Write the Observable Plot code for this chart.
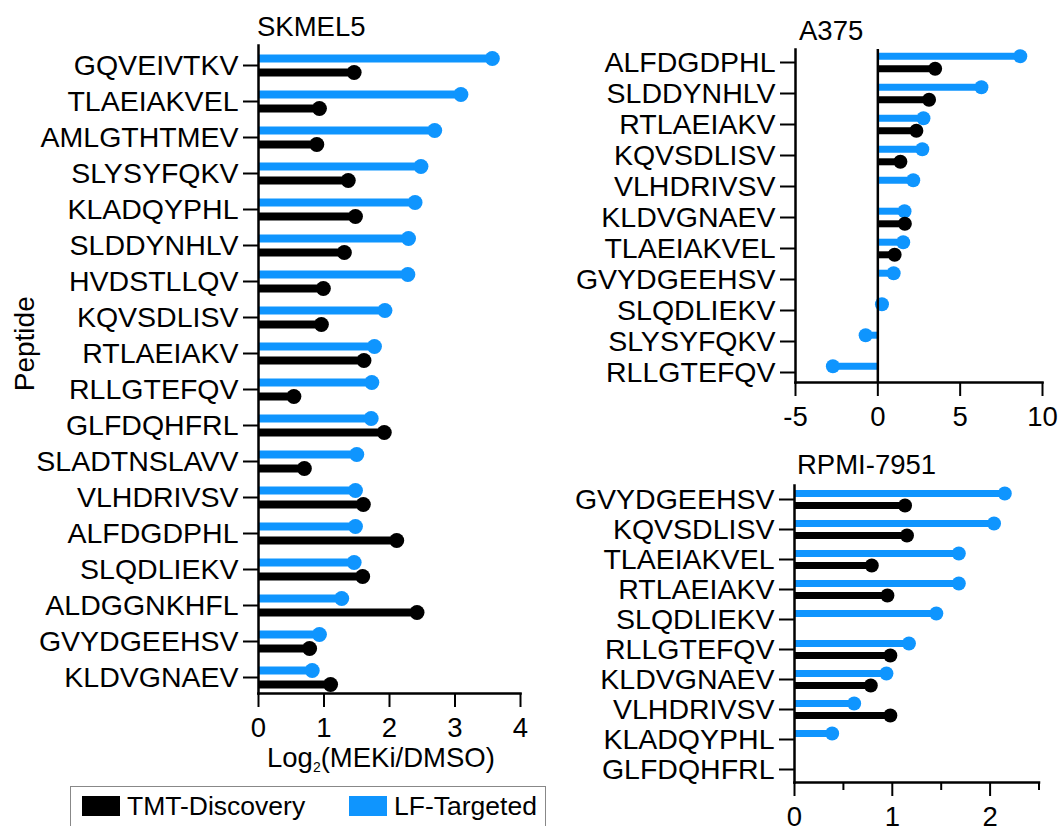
<!DOCTYPE html>
<html>
<head>
<meta charset="utf-8">
<script src="https://cdn.jsdelivr.net/npm/d3@7"></script>
<script src="https://cdn.jsdelivr.net/npm/@observablehq/plot@0.6"></script>
<style>
  html, body { margin: 0; padding: 0; background: #fff; }
  #root { position: relative; width: 1058px; height: 826px; overflow: hidden; background: #fff;
          font-family: "Liberation Sans", Arial, Helvetica, sans-serif; color: #000; }
  .abs { position: absolute; white-space: nowrap; }
  .title { font-size: 27.5px; line-height: 27.5px; }
  .legend { position: absolute; border: 1.5px solid #888; box-sizing: border-box; }
  .sw { position: absolute; width: 38px; height: 20px; }
  .lt { position: absolute; font-size: 26.5px; line-height: 26.5px; }
</style>
</head>
<body>
<div id="root"></div>
<script>
// ---------- data ----------
const seriesNames = ["TMT-Discovery", "LF-Targeted"];

const skmel5Peptides = ["GQVEIVTKV","TLAEIAKVEL","AMLGTHTMEV","SLYSYFQKV","KLADQYPHL","SLDDYNHLV","HVDSTLLQV","KQVSDLISV","RTLAEIAKV","RLLGTEFQV","GLFDQHFRL","SLADTNSLAVV","VLHDRIVSV","ALFDGDPHL","SLQDLIEKV","ALDGGNKHFL","GVYDGEEHSV","KLDVGNAEV"];
const skmel5LF  = [3.57,3.09,2.69,2.48,2.39,2.29,2.28,1.93,1.77,1.73,1.72,1.50,1.48,1.48,1.46,1.27,0.93,0.82];
const skmel5TMT = [1.46,0.93,0.89,1.37,1.48,1.31,0.99,0.96,1.61,0.54,1.92,0.70,1.60,2.11,1.59,2.42,0.78,1.10];

const a375Peptides = ["ALFDGDPHL","SLDDYNHLV","RTLAEIAKV","KQVSDLISV","VLHDRIVSV","KLDVGNAEV","TLAEIAKVEL","GVYDGEEHSV","SLQDLIEKV","SLYSYFQKV","RLLGTEFQV"];
const a375LF  = [8.65,6.29,2.77,2.70,2.15,1.62,1.54,0.96,0.25,-0.74,-2.73];
const a375TMT = [3.48,3.11,2.34,1.37,null,1.64,1.02,null,null,null,null];

const rpmiPeptides = ["GVYDGEEHSV","KQVSDLISV","TLAEIAKVEL","RTLAEIAKV","SLQDLIEKV","RLLGTEFQV","KLDVGNAEV","VLHDRIVSV","KLADQYPHL","GLFDQHFRL"];
const rpmiLF  = [2.15,2.04,1.68,1.68,1.45,1.17,0.94,0.61,0.385,null];
const rpmiTMT = [1.13,1.15,0.79,0.95,null,0.98,0.78,0.98,null,null];

const skmel5Ticks = [0,1,2,3,4];
const a375Ticks = [-5,0,5,10];
const rpmiTicks = [0,1,2];
const rpmiMinorTicks = [0.5,1.5,2.5];

// ---------- styles ----------
const BLUE = "#0f95fe";
const BLACK = "#000000";
const FONT = '"Liberation Sans", Arial, Helvetica, sans-serif';

function rows(peptides, values) {
  return peptides.map((p, i) => ({peptide: p, value: values[i]})).filter(d => d.value != null);
}

function panel(o) {
  const lf = rows(o.peptides, o.lf);
  const tmt = rows(o.peptides, o.tmt);
  const marks = [
    Plot.ruleY(lf, {y: "peptide", x1: 0, x2: "value", dy: -o.off, stroke: BLUE, strokeWidth: o.sw}),
    Plot.dot(lf, {x: "value", y: "peptide", dy: -o.off, r: o.r, fill: BLUE}),
    Plot.ruleY(tmt, {y: "peptide", x1: 0, x2: "value", dy: o.off, stroke: BLACK, strokeWidth: o.sw}),
    Plot.dot(tmt, {x: "value", y: "peptide", dy: o.off, r: o.r, fill: BLACK}),
    Plot.axisY({tickSize: 15, tickPadding: 5, fontSize: 28.5, strokeWidth: 2, label: null, stroke: "#000", fill: "#000"}),
    Plot.axisX({ticks: o.ticks, tickSize: 14, tickPadding: 10, fontSize: 27.5, strokeWidth: 2, label: null,
                tickFormat: d => String(d), stroke: "#000", fill: "#000"}),
    Plot.frame({anchor: "left", strokeWidth: 2.5, stroke: "#000"}),
    Plot.frame({anchor: "bottom", strokeWidth: 2.5, stroke: "#000"})
  ];
  if (o.zeroRule) marks.push(Plot.ruleX([0], {strokeWidth: 2.5, stroke: "#000"}));
  if (o.minorTicks) marks.push(Plot.axisX({ticks: o.minorTicks, tickSize: 8, strokeWidth: 2, label: null,
                                          tickFormat: () => "", stroke: "#000"}));
  const svg = Plot.plot({
    width: o.width, height: o.height,
    marginLeft: o.ml, marginRight: o.mr, marginTop: o.mt, marginBottom: o.mb,
    style: {fontFamily: FONT, background: "transparent", color: "#000", overflow: "visible"},
    x: {domain: o.domain},
    y: {type: "point", domain: o.peptides, padding: 0, insetTop: o.it, insetBottom: o.ib},
    marks
  });
  const wrap = document.createElement("div");
  wrap.className = "abs";
  wrap.style.left = o.left + "px";
  wrap.style.top = o.top + "px";
  wrap.appendChild(svg);
  return wrap;
}

const root = document.getElementById("root");

root.appendChild(panel({
  peptides: skmel5Peptides, lf: skmel5LF, tmt: skmel5TMT, ticks: skmel5Ticks, domain: [0, 4],
  left: 0, top: 0, width: 560, height: 760, ml: 258, mr: 40, mt: 45, mb: 67, it: 16, ib: 13,
  off: 7, sw: 8, r: 7.5
}));
root.appendChild(panel({
  peptides: a375Peptides, lf: a375LF, tmt: a375TMT, ticks: a375Ticks, domain: [-5, 10], zeroRule: true,
  left: 560, top: 0, width: 498, height: 440, ml: 235, mr: 16, mt: 49, mb: 58, it: 12, ib: 9,
  off: 6.3, sw: 7, r: 7
}));
root.appendChild(panel({
  peptides: rpmiPeptides, lf: rpmiLF, tmt: rpmiTMT, ticks: rpmiTicks, minorTicks: rpmiMinorTicks, domain: [0, 2.5],
  left: 560, top: 440, width: 498, height: 386, ml: 234, mr: 19.5, mt: 45, mb: 44, it: 13, ib: 13,
  off: 6, sw: 7, r: 7
}));

function addText(html, cls, left, top, extra) {
  const d = document.createElement("div");
  d.className = "abs " + cls;
  d.style.left = left + "px";
  d.style.top = top + "px";
  if (extra) Object.assign(d.style, extra);
  d.innerHTML = html;
  root.appendChild(d);
  return d;
}

addText("SKMEL5", "title", 257, 12.5);
addText("A375", "title", 799, 16.5);
addText("RPMI-7951", "title", 797, 451);
addText('Log<sub style="font-size:14px;vertical-align:-5px;line-height:0">2</sub>(MEKi/DMSO)', "title", 267, 743.5);
addText("Peptide", "title", 25 - 100, 344 - 13.75, {width: "200px", textAlign: "center", transform: "rotate(-90deg)", transformOrigin: "50% 50%", fontSize: "28px"});

// legend
const lg = document.createElement("div");
lg.className = "legend";
Object.assign(lg.style, {left: "70px", top: "786px", width: "476px", height: "70px"});
const legendColors = [BLACK, BLUE];
const legendSwatchX = [11, 278];
seriesNames.forEach((name, i) => {
  const s = document.createElement("div");
  s.className = "sw";
  Object.assign(s.style, {left: legendSwatchX[i] + "px", top: "9px", background: legendColors[i]});
  lg.appendChild(s);
  const t = document.createElement("div");
  t.className = "lt";
  Object.assign(t.style, {left: (legendSwatchX[i] + 45) + "px", top: "6px"});
  t.textContent = name;
  lg.appendChild(t);
});
root.appendChild(lg);
</script>
</body>
</html>
